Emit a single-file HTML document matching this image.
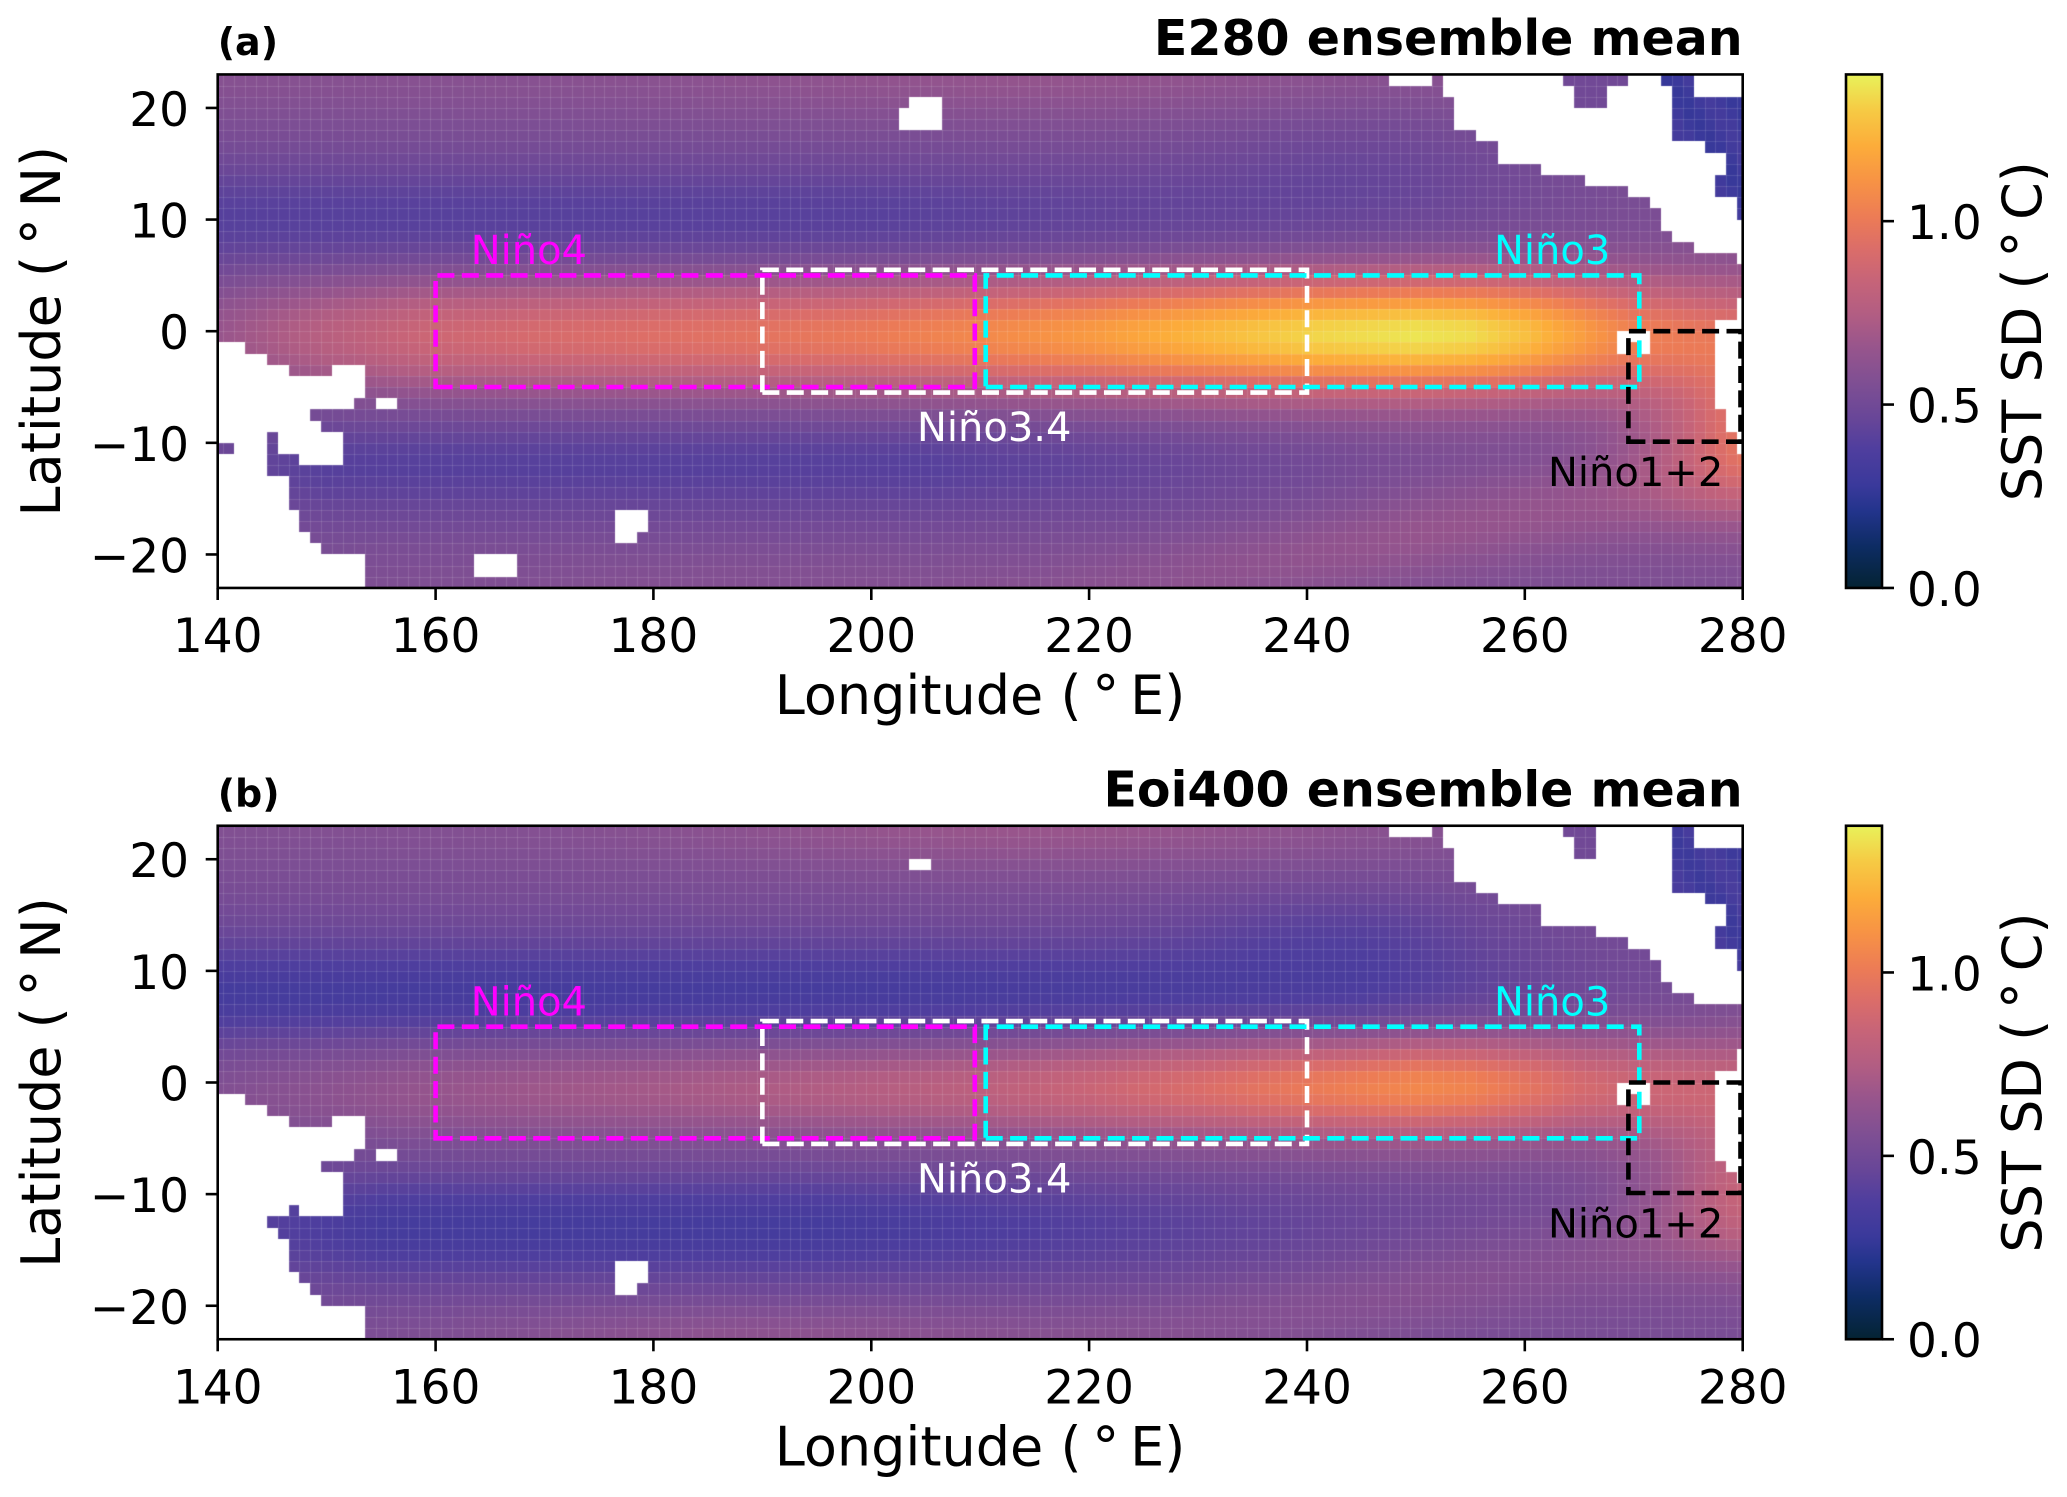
<!DOCTYPE html>
<html><head><meta charset="utf-8">
<style>
html,body{margin:0;padding:0;background:#fff;}
#wrap{position:relative;width:2067px;height:1497px;overflow:hidden;background:#fff;}
#wrap svg,#wrap canvas{position:absolute;left:0;top:0;}
text{font-family:"DejaVu Sans","Liberation Sans",sans-serif;}
</style></head><body>
<div id="wrap">
<svg id="fb" width="2067" height="1497" xmlns="http://www.w3.org/2000/svg">
<defs>
<linearGradient id="bandg" x1="0" y1="0" x2="1" y2="0">
<stop offset="0" stop-color="#a0588a"/><stop offset="0.5" stop-color="#ee8252"/><stop offset="0.8" stop-color="#f6d048"/><stop offset="1" stop-color="#e27462"/>
</linearGradient>
</defs>
<rect x="217.7" y="74.45" width="1525" height="513.5" fill="#714a96"/>
<rect x="217.7" y="280" width="1525" height="100" fill="url(#bandg)" opacity="0.8"/>
<rect x="217.7" y="825.75" width="1525" height="513.5" fill="#6a4898"/>
<rect x="217.7" y="1031" width="1525" height="100" fill="url(#bandg)" opacity="0.6"/>
</svg>
<canvas id="cv" width="2067" height="1497"></canvas>
<svg id="ov" width="2067" height="1497" xmlns="http://www.w3.org/2000/svg">
<defs>
<linearGradient id="cmg" x1="0" y1="1" x2="0" y2="0">
<stop offset="0" stop-color="rgb(4,35,51)"/>
<stop offset="0.08" stop-color="rgb(13,44,99)"/>
<stop offset="0.15" stop-color="rgb(35,52,140)"/>
<stop offset="0.2" stop-color="rgb(58,57,155)"/>
<stop offset="0.27" stop-color="rgb(79,62,158)"/>
<stop offset="0.33" stop-color="rgb(104,70,152)"/>
<stop offset="0.4" stop-color="rgb(127,79,147)"/>
<stop offset="0.47" stop-color="rgb(152,85,140)"/>
<stop offset="0.53" stop-color="rgb(177,93,131)"/>
<stop offset="0.6" stop-color="rgb(199,100,120)"/>
<stop offset="0.66" stop-color="rgb(219,109,105)"/>
<stop offset="0.72" stop-color="rgb(236,123,86)"/>
<stop offset="0.79" stop-color="rgb(247,146,69)"/>
<stop offset="0.86" stop-color="rgb(252,172,58)"/>
<stop offset="0.93" stop-color="rgb(246,202,68)"/>
<stop offset="1" stop-color="rgb(232,242,90)"/>
</linearGradient>
</defs>

<!-- ================= PANEL A ================= -->
<g fill="none" stroke-width="4.6" stroke-dasharray="17 7.4">
<path d="M435.6,387.0 H974.8 V275.4 H435.6 Z" stroke="#ff00ff"/>
<path d="M762.35,392.6 H1307.0 V269.8 H762.35 Z" stroke="#ffffff"/>
<path d="M985.7,387.0 H1639.3 V275.4 H985.7 Z" stroke="#00ffff"/>
<path d="M1628.4,441.7 H1740.5 V331.2 H1628.4 Z" stroke="#000000"/>
</g>
<g font-size="40">
<text x="470.7" y="264" fill="#ff00ff">Niño4</text>
<text x="1494" y="264" fill="#00ffff">Niño3</text>
<text x="917" y="441" fill="#ffffff">Niño3.4</text>
<text x="1548" y="486" fill="#000000">Niño1+2</text>
</g>
<rect x="217.7" y="74.45" width="1525" height="513.5" fill="none" stroke="#000" stroke-width="2.6"/>
<g stroke="#000" stroke-width="2.6">
<line x1="205.7" y1="107.94" x2="217.7" y2="107.94"/>
<line x1="205.7" y1="219.57" x2="217.7" y2="219.57"/>
<line x1="205.7" y1="331.2" x2="217.7" y2="331.2"/>
<line x1="205.7" y1="442.83" x2="217.7" y2="442.83"/>
<line x1="205.7" y1="554.46" x2="217.7" y2="554.46"/>
<line x1="217.7" y1="588" x2="217.7" y2="600"/>
<line x1="435.6" y1="588" x2="435.6" y2="600"/>
<line x1="653.4" y1="588" x2="653.4" y2="600"/>
<line x1="871.3" y1="588" x2="871.3" y2="600"/>
<line x1="1089.1" y1="588" x2="1089.1" y2="600"/>
<line x1="1307.0" y1="588" x2="1307.0" y2="600"/>
<line x1="1524.8" y1="588" x2="1524.8" y2="600"/>
<line x1="1742.7" y1="588" x2="1742.7" y2="600"/>
</g>
<g font-size="47" fill="#000" text-anchor="end">
<text x="189" y="125.9">20</text>
<text x="189" y="237.6">10</text>
<text x="189" y="349.2">0</text>
<text x="189" y="460.8">−10</text>
<text x="189" y="572.5">−20</text>
</g>
<g font-size="47" fill="#000" text-anchor="middle">
<text x="217.7" y="652">140</text>
<text x="435.6" y="652">160</text>
<text x="653.4" y="652">180</text>
<text x="871.3" y="652">200</text>
<text x="1089.1" y="652">220</text>
<text x="1307.0" y="652">240</text>
<text x="1524.8" y="652">260</text>
<text x="1742.7" y="652">280</text>
</g>
<text x="980" y="714" font-size="54" text-anchor="middle">Longitude (&#8201;°&#8201;E)</text>
<text transform="translate(60,331.2) rotate(-90)" font-size="54" text-anchor="middle">Latitude (&#8201;°&#8201;N)</text>
<text x="217.7" y="55" font-size="38" font-weight="bold">(a)</text>
<text x="1742.7" y="55" font-size="49" font-weight="bold" text-anchor="end">E280 ensemble mean</text>
<rect x="1846" y="74.45" width="36" height="513.5" fill="url(#cmg)" stroke="#000" stroke-width="2.6"/>
<g stroke="#000" stroke-width="2.6">
<line x1="1882" y1="587.95" x2="1894" y2="587.95"/>
<line x1="1882" y1="404.56" x2="1894" y2="404.56"/>
<line x1="1882" y1="221.16" x2="1894" y2="221.16"/>
</g>
<g font-size="47" fill="#000">
<text x="1907" y="605.9">0.0</text>
<text x="1907" y="422.5">0.5</text>
<text x="1907" y="239.1">1.0</text>
</g>
<text transform="translate(2041,331.2) rotate(-90)" font-size="54" text-anchor="middle">SST SD (&#8201;°&#8201;C)</text>

<!-- ================= PANEL B ================= -->
<g fill="none" stroke-width="4.6" stroke-dasharray="17 7.4">
<path d="M435.6,1138.3 H974.8 V1026.7 H435.6 Z" stroke="#ff00ff"/>
<path d="M762.35,1143.9 H1307.0 V1021.1 H762.35 Z" stroke="#ffffff"/>
<path d="M985.7,1138.3 H1639.3 V1026.7 H985.7 Z" stroke="#00ffff"/>
<path d="M1628.4,1193.0 H1740.5 V1082.5 H1628.4 Z" stroke="#000000"/>
</g>
<g font-size="40">
<text x="470.7" y="1015.3" fill="#ff00ff">Niño4</text>
<text x="1494" y="1015.3" fill="#00ffff">Niño3</text>
<text x="917" y="1192.3" fill="#ffffff">Niño3.4</text>
<text x="1548" y="1237.3" fill="#000000">Niño1+2</text>
</g>
<rect x="217.7" y="825.75" width="1525" height="513.5" fill="none" stroke="#000" stroke-width="2.6"/>
<g stroke="#000" stroke-width="2.6">
<line x1="205.7" y1="859.24" x2="217.7" y2="859.24"/>
<line x1="205.7" y1="970.87" x2="217.7" y2="970.87"/>
<line x1="205.7" y1="1082.5" x2="217.7" y2="1082.5"/>
<line x1="205.7" y1="1194.13" x2="217.7" y2="1194.13"/>
<line x1="205.7" y1="1305.76" x2="217.7" y2="1305.76"/>
<line x1="217.7" y1="1339.3" x2="217.7" y2="1351.3"/>
<line x1="435.6" y1="1339.3" x2="435.6" y2="1351.3"/>
<line x1="653.4" y1="1339.3" x2="653.4" y2="1351.3"/>
<line x1="871.3" y1="1339.3" x2="871.3" y2="1351.3"/>
<line x1="1089.1" y1="1339.3" x2="1089.1" y2="1351.3"/>
<line x1="1307.0" y1="1339.3" x2="1307.0" y2="1351.3"/>
<line x1="1524.8" y1="1339.3" x2="1524.8" y2="1351.3"/>
<line x1="1742.7" y1="1339.3" x2="1742.7" y2="1351.3"/>
</g>
<g font-size="47" fill="#000" text-anchor="end">
<text x="189" y="877.2">20</text>
<text x="189" y="988.9">10</text>
<text x="189" y="1100.5">0</text>
<text x="189" y="1212.1">−10</text>
<text x="189" y="1323.8">−20</text>
</g>
<g font-size="47" fill="#000" text-anchor="middle">
<text x="217.7" y="1403.3">140</text>
<text x="435.6" y="1403.3">160</text>
<text x="653.4" y="1403.3">180</text>
<text x="871.3" y="1403.3">200</text>
<text x="1089.1" y="1403.3">220</text>
<text x="1307.0" y="1403.3">240</text>
<text x="1524.8" y="1403.3">260</text>
<text x="1742.7" y="1403.3">280</text>
</g>
<text x="980" y="1465.3" font-size="54" text-anchor="middle">Longitude (&#8201;°&#8201;E)</text>
<text transform="translate(60,1082.5) rotate(-90)" font-size="54" text-anchor="middle">Latitude (&#8201;°&#8201;N)</text>
<text x="217.7" y="806.3" font-size="38" font-weight="bold">(b)</text>
<text x="1742.7" y="806.3" font-size="49" font-weight="bold" text-anchor="end">Eoi400 ensemble mean</text>
<rect x="1846" y="825.75" width="36" height="513.5" fill="url(#cmg)" stroke="#000" stroke-width="2.6"/>
<g stroke="#000" stroke-width="2.6">
<line x1="1882" y1="1339.25" x2="1894" y2="1339.25"/>
<line x1="1882" y1="1155.86" x2="1894" y2="1155.86"/>
<line x1="1882" y1="972.46" x2="1894" y2="972.46"/>
</g>
<g font-size="47" fill="#000">
<text x="1907" y="1357.2">0.0</text>
<text x="1907" y="1173.8">0.5</text>
<text x="1907" y="990.4">1.0</text>
</g>
<text transform="translate(2041,1082.5) rotate(-90)" font-size="54" text-anchor="middle">SST SD (&#8201;°&#8201;C)</text>
</svg>
</div>
<script>
(function(){
var cv=document.getElementById('cv');var ctx=cv.getContext('2d');
var AXL=217.7,AXR=1742.7,PXD=10.893,PYD=11.163;
var LAT0=[331.2,1082.5];
function X(lon){return AXL+(lon-140)*PXD;}
function Y(p,lat){return LAT0[p]-lat*PYD;}
var CM=[[0,4,35,51],[0.08,13,44,99],[0.15,35,52,140],[0.2,58,57,155],[0.27,79,62,158],[0.33,104,70,152],[0.4,127,79,147],[0.47,152,85,140],[0.53,177,93,131],[0.6,199,100,120],[0.66,219,109,105],[0.72,236,123,86],[0.79,247,146,69],[0.86,252,172,58],[0.93,246,202,68],[1,232,242,90]];
function cmap(v){var t=v/1.4;if(t<0)t=0;if(t>1)t=1;
 for(var k=1;k<CM.length;k++){if(t<=CM[k][0]){var a=CM[k-1],b=CM[k];var u=(t-a[0])/(b[0]-a[0]);
  return 'rgb('+Math.round(a[1]+(b[1]-a[1])*u)+','+Math.round(a[2]+(b[2]-a[2])*u)+','+Math.round(a[3]+(b[3]-a[3])*u)+')';}}
 return 'rgb(232,242,90)';}
function ip(arr,x){if(x<=arr[0][0])return arr[0][1];
 for(var k=1;k<arr.length;k++){if(x<=arr[k][0]){var t=(x-arr[k-1][0])/(arr[k][0]-arr[k-1][0]);return arr[k-1][1]+(arr[k][1]-arr[k-1][1])*t;}}
 return arr[arr.length-1][1];}
function g(x,c,s){var d=(x-c)/s;return Math.exp(-d*d);}
var P=[
 {base:.55,bw:5.2,
  T:[[140,.66],[150,.78],[160,.87],[170,.91],[180,.94],[190,.97],[200,1.01],[210,1.07],[220,1.14],[230,1.24],[240,1.33],[250,1.37],[255,1.35],[260,1.27],[265,1.15],[270,1.02],[275,.95],[280,.9]],
  dn:[[140,.15],[200,.15],[230,.1],[260,.03],[280,0]],nc:10,ns:5.5,
  ds:[[140,.08],[150,.15],[205,.15],[225,.1],[250,.02],[280,0]],sc:-12,ss:5,
  ne:.06,nelon:245,nelat:15,nes:6,
  et:.38,dg:.1,carib:.3,topk:.05,botk:.03},
 {base:.53,bw:4.6,
  T:[[140,.58],[150,.62],[160,.66],[170,.69],[180,.71],[190,.74],[200,.77],[210,.8],[220,.86],[230,.93],[240,1.01],[250,1.07],[255,1.05],[260,.98],[265,.9],[270,.85],[275,.82],[280,.8]],
  dn:[[140,.2],[200,.2],[245,.17],[265,.05],[280,0]],nc:8,ns:5,
  ds:[[140,.1],[155,.2],[195,.2],[215,.15],[250,.05],[280,0]],sc:-13,ss:5,
  ne:.08,nelon:243,nelat:14,nes:4,
  et:.28,dg:.07,carib:.32,topk:.09,botk:.09}
];
function val(p,lon,lat){
 var q=P[p];
 if(lon>=272.5&&lat>=10) return q.carib+0.03*Math.sin(lon*1.3+lat*0.9);
 if(lon>=263&&lon<=270&&lat>=19) return 0.5;
 var v=q.base-ip(q.dn,lon)*g(lat,q.nc,q.ns)-ip(q.ds,lon)*g(lat,q.sc,q.ss);
 v+=(ip(q.T,lon)-q.base)*g(lat,-0.3,q.bw);
 v+=q.et*g(lon,282,10)*g(lat,-9,7);
 var dc=-13-(280-lon)*0.17;
 v+=q.dg*g(lat,dc,4)*Math.min(1,Math.max(0,(lon-200)/50));
 v+=0.04*g(lat,23,4);
 v+=q.topk*g(lat,23,4)*g(lon,215,30);
 v+=q.botk*g(lat,-23,3.5)*g(lon,190,30);
 v-=q.ne*g(lon,q.nelon,15)*g(lat,q.nelat,q.nes);
 return v;
}
var LA=[
[139.5,142.5,-1,-2],[139.5,144.5,-2,-3],[139.5,146.5,-3,-4],[150.5,153.5,-3,-4],[139.5,153.5,-4,-6],[139.5,152.5,-6,-7],[154.5,156.5,-6,-7],[139.5,148.5,-7,-8],[139.5,149.5,-8,-9],[139.5,144.5,-9,-10],[145.5,151.5,-9,-11],[141.5,144.5,-10,-11],[139.5,144.5,-11,-13],[147.5,151.5,-11,-12],[139.5,146.5,-13,-16],[139.5,147.5,-16,-18],[139.5,148.5,-18,-19],[139.5,149.5,-19,-20],[139.5,153.5,-20,-23.5],
[203.5,206.5,21,20],[202.5,206.5,20,18],
[176.5,179.5,-16,-18],[176.5,178.5,-18,-19],
[163.5,167.5,-20,-22],
[247.5,251.5,23.5,22],[252.5,263.5,23.5,22],[269.5,272.5,23.5,22],[275.5,280.5,23.5,21],
[252.5,264.5,22,21],[267.5,273.5,22,20],[253.5,264.5,21,20],
[253.5,273.5,20,18],[255.5,273.5,18,17],[257.5,276.5,17,16],[257.5,278.5,16,15],[261.5,278.5,15,14],[265.5,277.5,14,13],[269.5,277.5,13,12],[271.5,279.5,12,11],[272.5,279.5,11,10],[272.5,280.5,10,9],[273.5,280.5,9,8],[275.5,280.5,8,7],[279.5,280.5,7,6],
[279.5,280.5,3,1],[277.5,280.5,1,-7],[278.5,280.5,-7,-9],[279.5,280.5,-9,-11],
[268.5,271.5,0,-1],[268.5,269.5,-1,-2],[270.5,271.5,-1,-2]
];
var LB=[
[139.5,142.5,-1,-2],[139.5,144.5,-2,-3],[139.5,146.5,-3,-4],[150.5,153.5,-3,-4],[139.5,153.5,-4,-6],[139.5,152.5,-6,-7],[154.5,156.5,-6,-7],[139.5,149.5,-7,-8],[139.5,151.5,-8,-11],[139.5,146.5,-11,-12],[147.5,151.5,-11,-12],[139.5,144.5,-12,-13],[139.5,145.5,-13,-14],[139.5,146.5,-14,-17],[139.5,147.5,-17,-18],[139.5,148.5,-18,-19],[139.5,149.5,-19,-20],[139.5,153.5,-20,-23.5],
[203.5,205.5,20,19],
[176.5,179.5,-16,-18],[176.5,178.5,-18,-19],
[247.5,251.5,23.5,22],[252.5,263.5,23.5,22],[266.5,273.5,23.5,22],[275.5,280.5,23.5,21],
[252.5,264.5,22,21],[266.5,273.5,22,20],[253.5,264.5,21,20],
[253.5,273.5,20,18],[255.5,273.5,18,17],[257.5,276.5,17,16],[261.5,278.5,16,14],[266.5,277.5,14,13],[269.5,277.5,13,12],[271.5,279.5,12,11],[272.5,279.5,11,10],[272.5,280.5,10,9],[273.5,280.5,9,8],[275.5,280.5,8,7],
[279.5,280.5,3,1],[277.5,280.5,1,-7],[278.5,280.5,-7,-8],[279.5,280.5,-8,-9],
[268.5,271.5,0,-1],[268.5,269.5,-1,-2],[270.5,271.5,-1,-2]
];
function draw(p,land){
 var top=Math.round(Y(p,23)),bot=Math.round(Y(p,-23));
 var xl=Math.round(AXL),xr=Math.round(AXR);
 for(var j=0;j<46;j++){
  var la=22.5-j;
  var y0=Math.round(Y(p,la+0.5)),y1=Math.round(Y(p,la-0.5));
  for(var i=0;i<=140;i++){
   var lo=140+i;
   var x0=Math.max(Math.round(X(lo-0.5)),xl),x1=Math.min(Math.round(X(lo+0.5)),xr);
   ctx.fillStyle=cmap(val(p,lo,la));
   ctx.fillRect(x0,y0,x1-x0,y1-y0);
  }
 }
 ctx.fillStyle='rgba(255,255,255,0.13)';
 for(var i2=0;i2<140;i2++){var x=Math.round(X(140.5+i2));ctx.fillRect(x,top,1,bot-top);}
 for(var j2=1;j2<46;j2++){var y=Math.round(Y(p,23-j2));ctx.fillRect(xl,y,xr-xl,1);}
 ctx.fillStyle='#ffffff';
 for(var k=0;k<land.length;k++){var r=land[k];
  var a0=Math.max(Math.round(X(r[0])),xl),a1=Math.min(Math.round(X(r[1])),xr);
  var b0=Math.max(Math.round(Y(p,r[2])),top),b1=Math.min(Math.round(Y(p,r[3])),bot);
  if(a1>a0&&b1>b0)ctx.fillRect(a0,b0,a1-a0,b1-b0);
 }
}
draw(0,LA);draw(1,LB);
})();
</script>
</body></html>
